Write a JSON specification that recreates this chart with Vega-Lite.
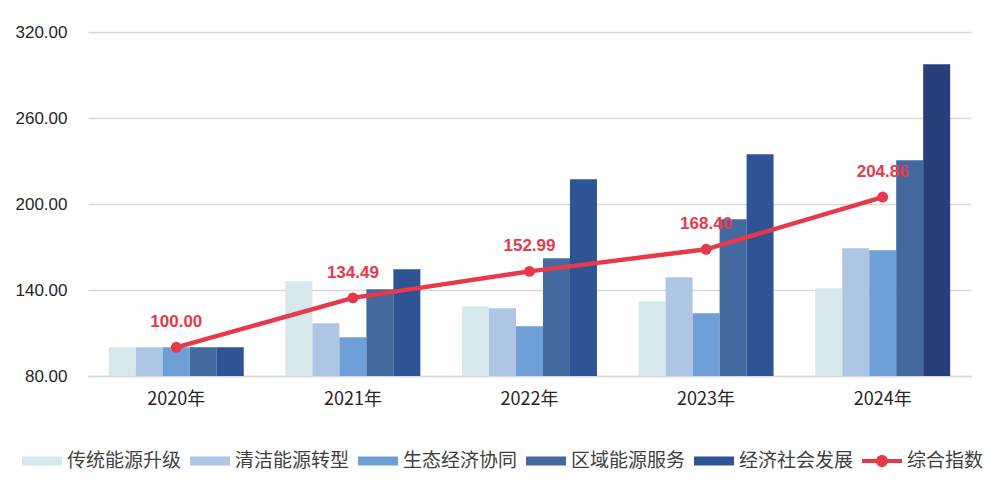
{
  "$schema": "https://vega.github.io/schema/vega-lite/v6.json",
  "autosize": "none",
  "width": 883,
  "height": 344,
  "padding": {"left": 88, "top": 32, "right": 24, "bottom": 117},
  "background": "white",
  "config": {"view": {"stroke": null}},
  "data": {
    "values": [
      {"year": "2020年", "series": "传统能源升级", "value": 100},
      {"year": "2020年", "series": "清洁能源转型", "value": 100},
      {"year": "2020年", "series": "生态经济协同", "value": 100},
      {"year": "2020年", "series": "区域能源服务", "value": 100},
      {"year": "2020年", "series": "经济社会发展", "value": 100},
      {"year": "2021年", "series": "传统能源升级", "value": 146.1},
      {"year": "2021年", "series": "清洁能源转型", "value": 116.8},
      {"year": "2021年", "series": "生态经济协同", "value": 107.0},
      {"year": "2021年", "series": "区域能源服务", "value": 140.5},
      {"year": "2021年", "series": "经济社会发展", "value": 154.5},
      {"year": "2022年", "series": "传统能源升级", "value": 128.6},
      {"year": "2022年", "series": "清洁能源转型", "value": 127.2},
      {"year": "2022年", "series": "生态经济协同", "value": 114.7},
      {"year": "2022年", "series": "区域能源服务", "value": 162.1},
      {"year": "2022年", "series": "经济社会发展", "value": 217.3},
      {"year": "2023年", "series": "传统能源升级", "value": 132.1},
      {"year": "2023年", "series": "清洁能源转型", "value": 148.9},
      {"year": "2023年", "series": "生态经济协同", "value": 123.7},
      {"year": "2023年", "series": "区域能源服务", "value": 189.3},
      {"year": "2023年", "series": "经济社会发展", "value": 234.7},
      {"year": "2024年", "series": "传统能源升级", "value": 141.2},
      {"year": "2024年", "series": "清洁能源转型", "value": 169.1},
      {"year": "2024年", "series": "生态经济协同", "value": 167.7},
      {"year": "2024年", "series": "区域能源服务", "value": 230.5},
      {"year": "2024年", "series": "经济社会发展", "value": 297.5},
      {"year": "2020年", "series": "综合指数", "value": 100.00},
      {"year": "2021年", "series": "综合指数", "value": 134.49},
      {"year": "2022年", "series": "综合指数", "value": 152.99},
      {"year": "2023年", "series": "综合指数", "value": 168.40},
      {"year": "2024年", "series": "综合指数", "value": 204.86}
    ]
  },
  "encoding": {
    "x": {
      "field": "year",
      "type": "nominal",
      "sort": ["2020年", "2021年", "2022年", "2023年", "2024年"],
      "scale": {"paddingInner": 0.236, "paddingOuter": 0.118},
      "axis": {
        "title": null,
        "labelAngle": 0,
        "ticks": false,
        "domainColor": "#D9D9D9",
        "domainWidth": 1.5,
        "labelFont": "Noto Sans CJK SC",
        "labelFontSize": 18,
        "labelColor": "#262626",
        "labelPadding": 14
      }
    },
    "y": {
      "field": "value",
      "type": "quantitative",
      "scale": {"domain": [80, 320], "nice": false, "zero": false},
      "axis": {
        "title": null,
        "values": [80, 140, 200, 260, 320],
        "format": ".2f",
        "domain": false,
        "ticks": false,
        "gridColor": "#D9D9D9",
        "gridWidth": 1.5,
        "labelFont": "Liberation Sans",
        "labelFontSize": 17,
        "labelColor": "#262626",
        "labelPadding": 21
      }
    }
  },
  "layer": [
    {
      "transform": [{"filter": "datum.series !== '综合指数'"}],
      "mark": {"type": "bar", "clip": true},
      "encoding": {
        "xOffset": {
          "field": "series",
          "type": "nominal",
          "sort": ["传统能源升级", "清洁能源转型", "生态经济协同", "区域能源服务", "经济社会发展"],
          "scale": {"paddingInner": 0, "paddingOuter": 0}
        },
        "color": {
          "condition": {"test": "datum.year === '2024年' && datum.series === '经济社会发展'", "value": "#27407B"},
          "field": "series",
          "type": "nominal",
          "scale": {
            "domain": ["传统能源升级", "清洁能源转型", "生态经济协同", "区域能源服务", "经济社会发展", "综合指数"],
            "range": ["#D6E8EB", "#AEC6E4", "#6E9FD7", "#44699F", "#2F5496", "#E8394B"]
          },
          "legend": {
            "title": null,
            "orient": "none",
            "direction": "horizontal",
            "legendX": -66,
            "legendY": 409,
            "labelFont": "Noto Sans CJK SC",
            "labelFontSize": 19,
            "labelColor": "#404040",
            "labelOffset": 5,
            "columnPadding": 8,
            "symbolSize": 1600,
            "labelLimit": 300,
            "encode": {
              "symbols": {
                "update": {
                  "shape": {"signal": "datum.label === '综合指数' ? 'M-1,-0.1H1V0.1H-1Z M-0.3,0A0.3,0.3 0 1,1 0.3,0A0.3,0.3 0 1,1 -0.3,0Z' : 'M-1,-0.225H1V0.225H-1Z'"},
                  "fill": {"signal": "scale('color', datum.value)"},
                  "stroke": {"value": "transparent"},
                  "strokeWidth": {"value": 0},
                  "opacity": {"value": 1},
                  "fillOpacity": {"value": 1}
                }
              }
            }
          }
        }
      }
    },
    {
      "transform": [{"filter": "datum.series === '综合指数'"}],
      "mark": {"type": "line", "strokeWidth": 4.5, "point": {"filled": true, "size": 120}},
      "encoding": {
        "color": {"field": "series", "type": "nominal"}
      }
    },
    {
      "transform": [{"filter": "datum.series === '综合指数'"}],
      "mark": {
        "type": "text",
        "dy": -25,
        "font": "Liberation Sans",
        "fontSize": 17,
        "fontWeight": "bold",
        "color": "#E8394B"
      },
      "encoding": {
        "text": {"field": "value", "type": "quantitative", "format": ".2f"}
      }
    }
  ]
}
